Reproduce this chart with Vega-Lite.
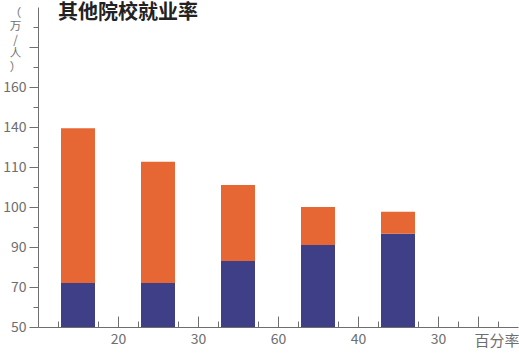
{
  "$schema": "https://vega.github.io/schema/vega-lite/v6.json",
  "width": 480,
  "height": 320,
  "autosize": "none",
  "padding": {"left": 38, "top": 7, "right": 1, "bottom": 29},
  "title": {
    "text": "其他院校就业率",
    "anchor": "start",
    "frame": "group",
    "dx": 20,
    "offset": -26,
    "baseline": "middle",
    "font": "Noto Sans CJK SC",
    "fontSize": 20,
    "fontWeight": "bold",
    "color": "#222222"
  },
  "config": {
    "view": {"stroke": null},
    "axis": {
      "grid": false,
      "domainColor": "#6e6e6e",
      "tickColor": "#6e6e6e",
      "labelColor": "#6e6e6e",
      "titleColor": "#6e6e6e",
      "labelFont": "Noto Sans CJK SC",
      "titleFont": "Noto Sans CJK SC",
      "labelFontSize": 14,
      "labelOverlap": false,
      "labelFlush": false
    }
  },
  "data": {
    "values": [
      {"item": 1, "part": "employed", "value": 72},
      {"item": 1, "part": "other", "value": 67},
      {"item": 2, "part": "employed", "value": 72},
      {"item": 2, "part": "other", "value": 42},
      {"item": 3, "part": "employed", "value": 83},
      {"item": 3, "part": "other", "value": 22.5},
      {"item": 4, "part": "employed", "value": 90.5},
      {"item": 4, "part": "other", "value": 9.5},
      {"item": 5, "part": "employed", "value": 93.3},
      {"item": 5, "part": "other", "value": 5.5}
    ]
  },
  "mark": {"type": "bar", "size": 34},
  "encoding": {
    "x": {
      "field": "item",
      "type": "quantitative",
      "scale": {"domain": [0.5, 6.5], "nice": false, "zero": false, "padding": 0},
      "axis": {
        "values": [0.75, 1.25, 1.5, 1.75, 2.25, 2.5, 2.75, 3.25, 3.5, 3.75, 4.25, 4.5, 4.75, 5.25, 5.5, 5.75, 6, 6.25],
        "labelExpr": "datum.value == 1.5 ? '20' : datum.value == 2.5 ? '30' : datum.value == 3.5 ? '60' : datum.value == 4.5 ? '40' : datum.value == 5.5 ? '30' : ''",
        "tickSize": {"condition": {"test": "indexof([1.5,2.5,3.5,4.5,5.5,6], datum.value) >= 0", "value": -11}, "value": -6},
        "labelPadding": 16,
        "title": "百分率",
        "titleFontSize": 15,
        "titleFontWeight": "normal",
        "titleAnchor": "end",
        "titleAlign": "right",
        "titleBaseline": "middle",
        "titleX": 481,
        "titleY": 13
      }
    },
    "y": {
      "field": "value",
      "type": "quantitative",
      "stack": "zero",
      "scale": {"domain": [50, 70, 90, 100, 110, 140, 160, 180, 200], "range": [320, 280, 240, 200, 160, 120, 80, 40, 0], "nice": false, "zero": false, "clamp": true, "padding": 0},
      "axis": {
        "values": [50, 60, 70, 80, 90, 95, 100, 105, 110, 125, 140, 150, 160, 170, 180, 190],
        "labelExpr": "indexof([50,70,90,100,110,140,160], datum.value) >= 0 ? datum.label : ''",
        "tickSize": {"condition": {"test": "indexof([50,70,90,100,110,140,160,180], datum.value) >= 0", "value": 9}, "value": 5},
        "labelPadding": 3,
        "labelBaseline": "middle",
        "title": ["（", "万", "/", "人", "）"],
        "titleAngle": 0,
        "titleFontSize": 11.5,
        "titleFontWeight": "normal",
        "titleLineHeight": 13.5,
        "titleAlign": "center",
        "titleBaseline": "top",
        "titleX": -23,
        "titleY": 0
      }
    },
    "color": {
      "field": "part",
      "type": "nominal",
      "scale": {"domain": ["employed", "other"], "range": ["#3e3f87", "#e66733"]},
      "legend": null
    },
    "order": {"field": "part", "sort": "ascending"}
  }
}
